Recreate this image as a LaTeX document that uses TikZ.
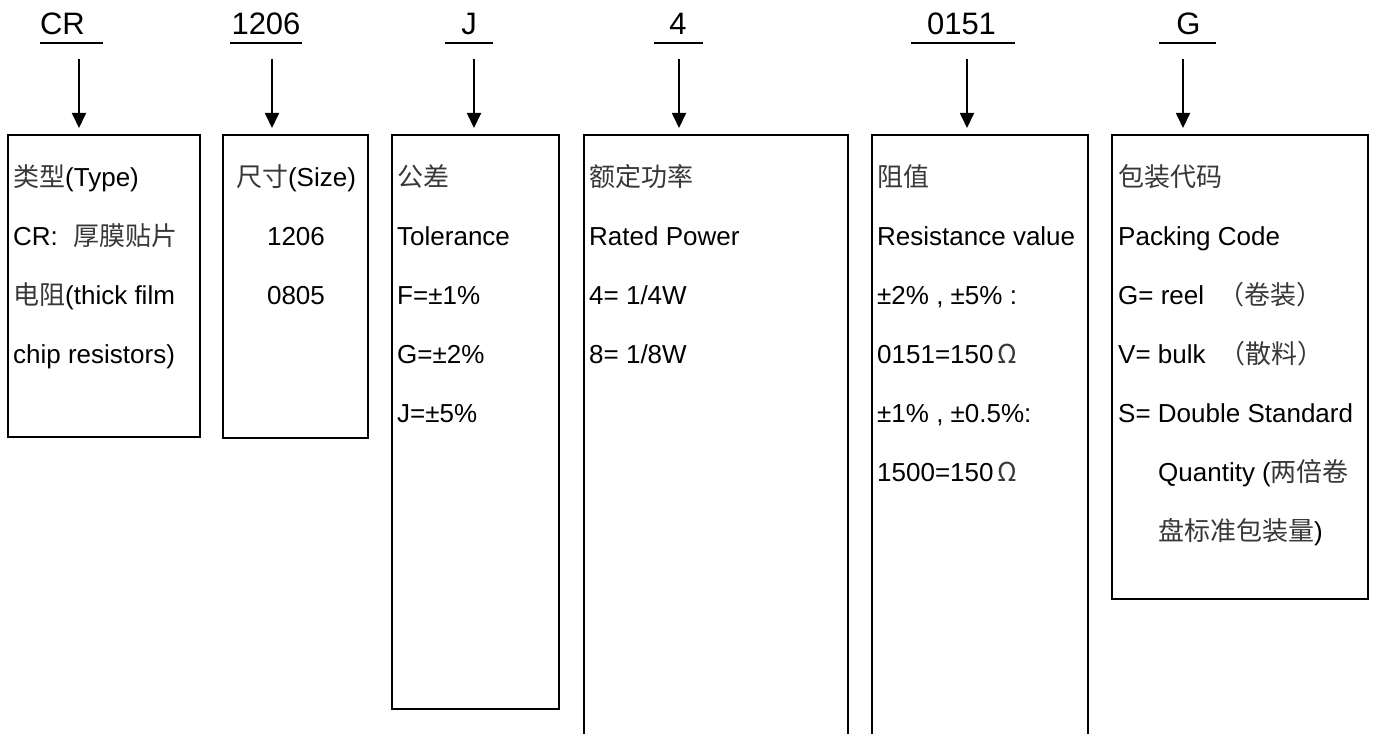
\documentclass[tikz,border=0pt]{standalone}
\usepackage{fontspec}
\setmainfont{Liberation Sans}
\newfontfamily\cjkf{Noto Sans CJK SC}
\usetikzlibrary{arrows.meta}
\newcommand{\cj}[1]{{\cjkf\color{black!78}#1}}
\begin{document}
\begin{tikzpicture}[x=1pt,y=-1pt,
  box/.style={draw, line width=1.8pt, inner sep=0pt, outer sep=0pt, anchor=north west},
  txt/.style={anchor=base west, inner sep=0pt, font=\fontsize{26pt}{30pt}\selectfont},
  ctxt/.style={txt, anchor=base},
  hdr/.style={anchor=base, inner sep=0pt, font=\fontsize{31pt}{36pt}\selectfont},
  uline/.style={line width=1.8pt},
  arr/.style={line width=1.8pt, -{Triangle[length=15pt,width=14pt]}, shorten >=7pt}]
\useasboundingbox (0,0) rectangle (1375,733);
\fill[white] (0,0) rectangle (1375,733);
\clip (0,0) rectangle (1375,733);

% boxes
\node[box, minimum width=192pt, minimum height=302pt] (b1) at (8,135) {};
\node[box, minimum width=145pt, minimum height=303pt] (b2) at (223,135) {};
\node[box, minimum width=167pt, minimum height=574pt] (b3) at (392,135) {};
\node[box, minimum width=264pt, minimum height=620pt] (b4) at (584,135) {};
\node[box, minimum width=216pt, minimum height=620pt] (b5) at (872,135) {};
\node[box, minimum width=256pt, minimum height=464pt] (b6) at (1112,135) {};

% headers
\node[hdr] (h1) at (62.5,35) {CR};
\node[hdr] (h2) at (266,35) {1206};
\node[hdr] (h3) at (469,35) {J};
\node[hdr] (h4) at (678,35) {4};
\node[hdr] (h5) at (961.5,35) {0151};
\node[hdr] (h6) at (1188.5,35) {G};
\draw[uline] (40,43) -- (103,43);
\draw[uline] (230,43) -- (302,43);
\draw[uline] (445,43) -- (493,43);
\draw[uline] (654,43) -- (703,43);
\draw[uline] (911,43) -- (1015,43);
\draw[uline] (1159,43) -- (1216,43);

% arrows
\coordinate (s1) at (79,59);
\coordinate (s2) at (272,59);
\coordinate (s3) at (474,59);
\coordinate (s4) at (679,59);
\coordinate (s5) at (967,59);
\coordinate (s6) at (1183,59);
\draw[arr] (s1) -- (s1 |- b1.north);
\draw[arr] (s2) -- (s2 |- b2.north);
\draw[arr] (s3) -- (s3 |- b3.north);
\draw[arr] (s4) -- (s4 |- b4.north);
\draw[arr] (s5) -- (s5 |- b5.north);
\draw[arr] (s6) -- (s6 |- b6.north);

% box 1
\node[txt] (t11) at (13,186) {\cj{类型}(Type)};
\node[txt] (t12) at (13,245) {CR:\hspace{16pt}\cj{厚膜贴片}};
\node[txt] (t13) at (13,304) {\cj{电阻}(thick film};
\node[txt] (t14) at (13,363) {chip resistors)};

% box 2
\node[ctxt] (t21) at (296,186) {\cj{尺寸}(Size)};
\node[ctxt] (t22) at (296,245) {1206};
\node[ctxt] (t23) at (296,304) {0805};

% box 3
\node[txt] (t31) at (397,186) {\cj{公差}};
\node[txt] (t32) at (397,245) {Tolerance};
\node[txt] (t33) at (397,304) {F=±1\%};
\node[txt] (t34) at (397,363) {G=±2\%};
\node[txt] (t35) at (397,422) {J=±5\%};

% box 4
\node[txt] (t41) at (589,186) {\cj{额定功率}};
\node[txt] (t42) at (589,245) {Rated Power};
\node[txt] (t43) at (589,304) {4= 1/4W};
\node[txt] (t44) at (589,363) {8= 1/8W};

% box 5
\node[txt] (t51) at (877,186) {\cj{阻值}};
\node[txt] (t52) at (877,245) {Resistance value};
\node[txt] (t53) at (877,304) {±2\% , ±5\% :};
\node[txt] (t54) at (877,363) {0151=150\,\cj{Ω}};
\node[txt] (t55) at (877,422) {±1\% , ±0.5\%:};
\node[txt] (t56) at (877,481) {1500=150\,\cj{Ω}};

% box 6
\node[txt] (t61) at (1118,186) {\cj{包装代码}};
\node[txt] (t62) at (1118,245) {Packing Code};
\node[txt] (t63) at (1118,304) {G= reel\hspace{14pt}\cj{（卷装）}};
\node[txt] (t64) at (1118,363) {V= bulk\hspace{14pt}\cj{（散料）}};
\node[txt] (t65) at (1118,422) {S= Double Standard};
\node[txt] (t66) at (1158,481) {Quantity (\cj{两倍卷}};
\node[txt] (t67) at (1158,540) {\cj{盘标准包装量})};
\end{tikzpicture}
\end{document}
